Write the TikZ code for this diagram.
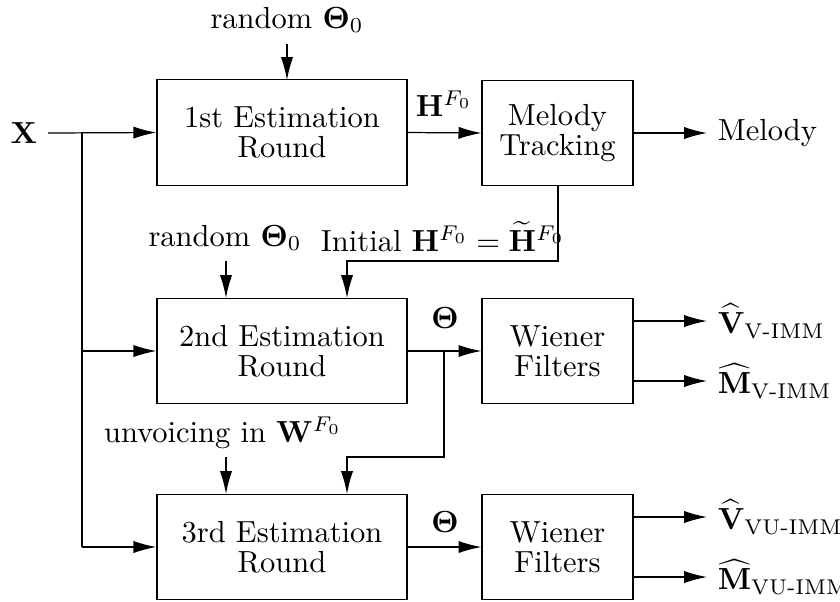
\documentclass[tikz,border=0pt]{standalone}
\usepackage{amsmath, amssymb}
\usepackage{tikz}
\usetikzlibrary{arrows.meta}

\tikzset{
  block/.style={draw, minimum width=82pt, minimum height=34.6pt, inner sep=0pt, align=center},
  smallblock/.style={block, minimum width=49.5pt},
  flow/.style={->, >={Latex[length=7.5pt, width=4pt]}}
}

\begin{document}
\begin{tikzpicture}[x=0.01152cm, y=-0.01152cm]
  \useasboundingbox (0, 0) rectangle (840, 601);

  % estimation rounds
  \node[block] (est1) at (282, 132.5) {1st Estimation\\[-2pt]Round};
  \node[block] (est2) at (282, 351) {2nd Estimation\\[-2pt]Round};
  \node[block] (est3) at (282, 547) {3rd Estimation\\[-2pt]Round};

  \node[smallblock] (track) at (557.5, 133) {Melody\\[-2pt]Tracking};
  \node[smallblock] (wien2) at (557.5, 351) {Wiener\\[-2pt]Filters};
  \node[smallblock] (wien3) at (557.5, 547) {Wiener\\[-2pt]Filters};

  % input
  \node (x) at (24, 133) {$\mathbf{X}$};
  \coordinate (split) at (82, 133);
  \draw[flow] (x.east) -- (est1.west);
  \draw (split) -- (82, 547);
  \draw[flow] (82, 351) -- (est2.west);
  \draw[flow] (82, 547) -- (est3.west);

  % first round
  \node (rand1) at (287, 20) {random $\boldsymbol{\Theta}_0$};
  \draw[flow] (rand1.south) -- (287, 80);
  \node (hf) at (444, 104) {$\mathbf{H}^{F_0}$};
  \draw[flow] (est1.east) -- (track.west);
  \node[anchor=west] (melody) at (707, 133) {Melody};
  \draw[flow] (track.east) -- (melody.west);

  % second round
  \node (rand2) at (225, 238) {random $\boldsymbol{\Theta}_0$};
  \draw[flow] (226, 261) -- (226, 298);
  \node (init) at (443, 237) {Initial $\mathbf{H}^{F_0} = \widetilde{\mathbf{H}}^{F_0}$};
  \coordinate (in2) at (347, 298);
  \draw[flow] (558, 186) -- (558, 261) -| (in2);
  \node (th2) at (445, 318) {$\boldsymbol{\Theta}$};
  \draw[flow] (est2.east) -- (wien2.west);

  \node[anchor=west] (v2) at (707, 321) {$\widehat{\mathbf{V}}_{\text{V-IMM}}$};
  \node[anchor=west] (m2) at (707, 381) {$\widehat{\mathbf{M}}_{\text{V-IMM}}$};
  \draw[flow] (wien2.east |- v2) -- (v2.west);
  \draw[flow] (wien2.east |- m2) -- (m2.west);

  % third round
  \node (unv) at (223, 433) {unvoicing in $\mathbf{W}^{F_0}$};
  \draw[flow] (226, 457) -- (226, 494);
  \coordinate (in3) at (347, 494);
  \draw[flow] (444, 351) -- (444, 457) -| (in3);
  \node (th3) at (445, 522) {$\boldsymbol{\Theta}$};
  \draw[flow] (est3.east) -- (wien3.west);

  \node[anchor=west] (v3) at (707, 517) {$\widehat{\mathbf{V}}_{\text{VU-IMM}}$};
  \node[anchor=west] (m3) at (707, 577) {$\widehat{\mathbf{M}}_{\text{VU-IMM}}$};
  \draw[flow] (wien3.east |- v3) -- (v3.west);
  \draw[flow] (wien3.east |- m3) -- (m3.west);
\end{tikzpicture}
\end{document}
